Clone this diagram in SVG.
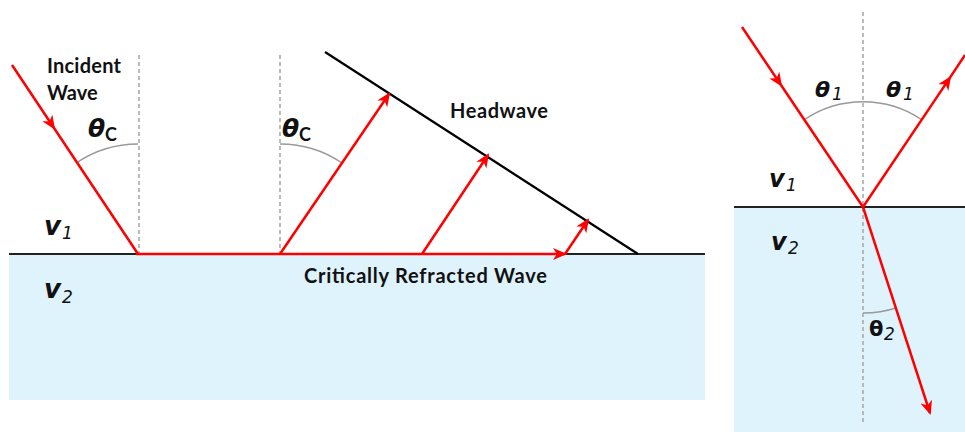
<svg xmlns="http://www.w3.org/2000/svg" width="965" height="432" viewBox="0 0 965 432">
<defs>
<style>
.ray{fill:none;stroke:#ff0000;stroke-width:2.5}
.iface{stroke:#222;stroke-width:2}
.dash{stroke:#aaaaaa;stroke-width:1.6;stroke-dasharray:4,3}
.arc{fill:none;stroke:#999;stroke-width:1.5}
.water{fill:#dff3fd}
.lbl{font-family:Lato,"Open Sans","Liberation Sans",sans-serif;font-weight:bold;fill:#111}
.sym{font-family:"DejaVu Sans",sans-serif;fill:#111}
</style>
<marker id="ah" markerUnits="userSpaceOnUse" markerWidth="14" markerHeight="12" viewBox="0 0 14 12" refX="12" refY="6" orient="auto">
<path d="M0,0 L14,6 L0,12 L4,6 Z" fill="#ff0000"/>
</marker>
</defs>
<g id="left-panel">
<rect class="water" x="9" y="254" width="696" height="146"/>
<line class="iface" x1="9" y1="254" x2="705" y2="254"/>
<line class="dash" x1="139" y1="55" x2="139" y2="254"/>
<line class="dash" x1="280" y1="55" x2="280" y2="254"/>
<path class="arc" d="M138,144 A110,110 0 0 0 77,162.5"/>
<path class="arc" d="M280,144 A110,110 0 0 1 342,163"/>
<line x1="325" y1="52" x2="638" y2="254" stroke="#000" stroke-width="2.2"/>
</g>
<g id="connectors">
<polyline class="ray" points="12,65 54,128 138,254" marker-mid="url(#ah)"/>
<line class="ray" x1="136" y1="254" x2="565" y2="254" marker-end="url(#ah)"/>
<line class="ray" x1="280" y1="254" x2="389" y2="94" marker-end="url(#ah)"/>
<line class="ray" x1="422" y1="254" x2="488" y2="155" marker-end="url(#ah)"/>
<line class="ray" x1="565" y1="254" x2="588" y2="220" marker-end="url(#ah)"/>
</g>
<g id="labels-left">
<text class="lbl" x="47" y="73" font-size="20" textLength="74">Incident</text>
<text class="lbl" x="47" y="100" font-size="20">Wave</text>
<text class="lbl" x="450" y="118" font-size="20" textLength="98">Headwave</text>
<text class="lbl" x="304" y="283" font-size="20" textLength="243">Critically Refracted Wave</text>
<text class="sym" x="88" y="137" font-size="25" font-weight="bold" font-style="italic">θ</text>
<text class="lbl" x="105" y="141" font-size="18" font-weight="normal">C</text>
<text class="sym" x="282" y="137" font-size="25" font-weight="bold" font-style="italic">θ</text>
<text class="lbl" x="299" y="141" font-size="18" font-weight="normal">C</text>
<text class="sym" x="44" y="235" font-size="26" font-weight="bold" font-style="italic">v</text>
<text class="sym" x="62" y="239" font-size="17" font-style="italic">1</text>
<text class="sym" x="44" y="298" font-size="26" font-weight="bold" font-style="italic">v</text>
<text class="sym" x="62" y="303" font-size="17" font-style="italic">2</text>
</g>
<g id="right-panel">
<rect class="water" x="734" y="207" width="231" height="225"/>
<line class="iface" x1="734" y1="207" x2="965" y2="207"/>
<line class="dash" x1="863" y1="12" x2="863" y2="422"/>
<path class="arc" d="M804,120 A105,105 0 0 1 922,120"/>
<path class="arc" d="M863,313 A106,106 0 0 0 896,308"/>
<polyline class="ray" points="742,27 781,85 863,207" marker-mid="url(#ah)"/>
<polyline class="ray" points="863,207 950,77.6 965,55" marker-mid="url(#ah)"/>
<line class="ray" x1="863" y1="207" x2="930" y2="413" marker-end="url(#ah)"/>
<text class="sym" x="815" y="97" font-size="22" font-weight="bold" font-style="italic">θ</text>
<text class="sym" x="832" y="100" font-size="17" font-style="italic">1</text>
<text class="sym" x="886" y="97" font-size="22" font-weight="bold" font-style="italic">θ</text>
<text class="sym" x="903" y="100" font-size="17" font-style="italic">1</text>
<text class="sym" x="769" y="187" font-size="24" font-weight="bold" font-style="italic">v</text>
<text class="sym" x="786" y="191" font-size="17" font-style="italic">1</text>
<text class="sym" x="771" y="250" font-size="24" font-weight="bold" font-style="italic">v</text>
<text class="sym" x="788" y="254" font-size="17" font-style="italic">2</text>
<text class="sym" x="869" y="336" font-size="21" font-weight="bold">θ</text>
<text class="sym" x="884" y="340" font-size="17" font-style="italic">2</text>
</g>
</svg>
